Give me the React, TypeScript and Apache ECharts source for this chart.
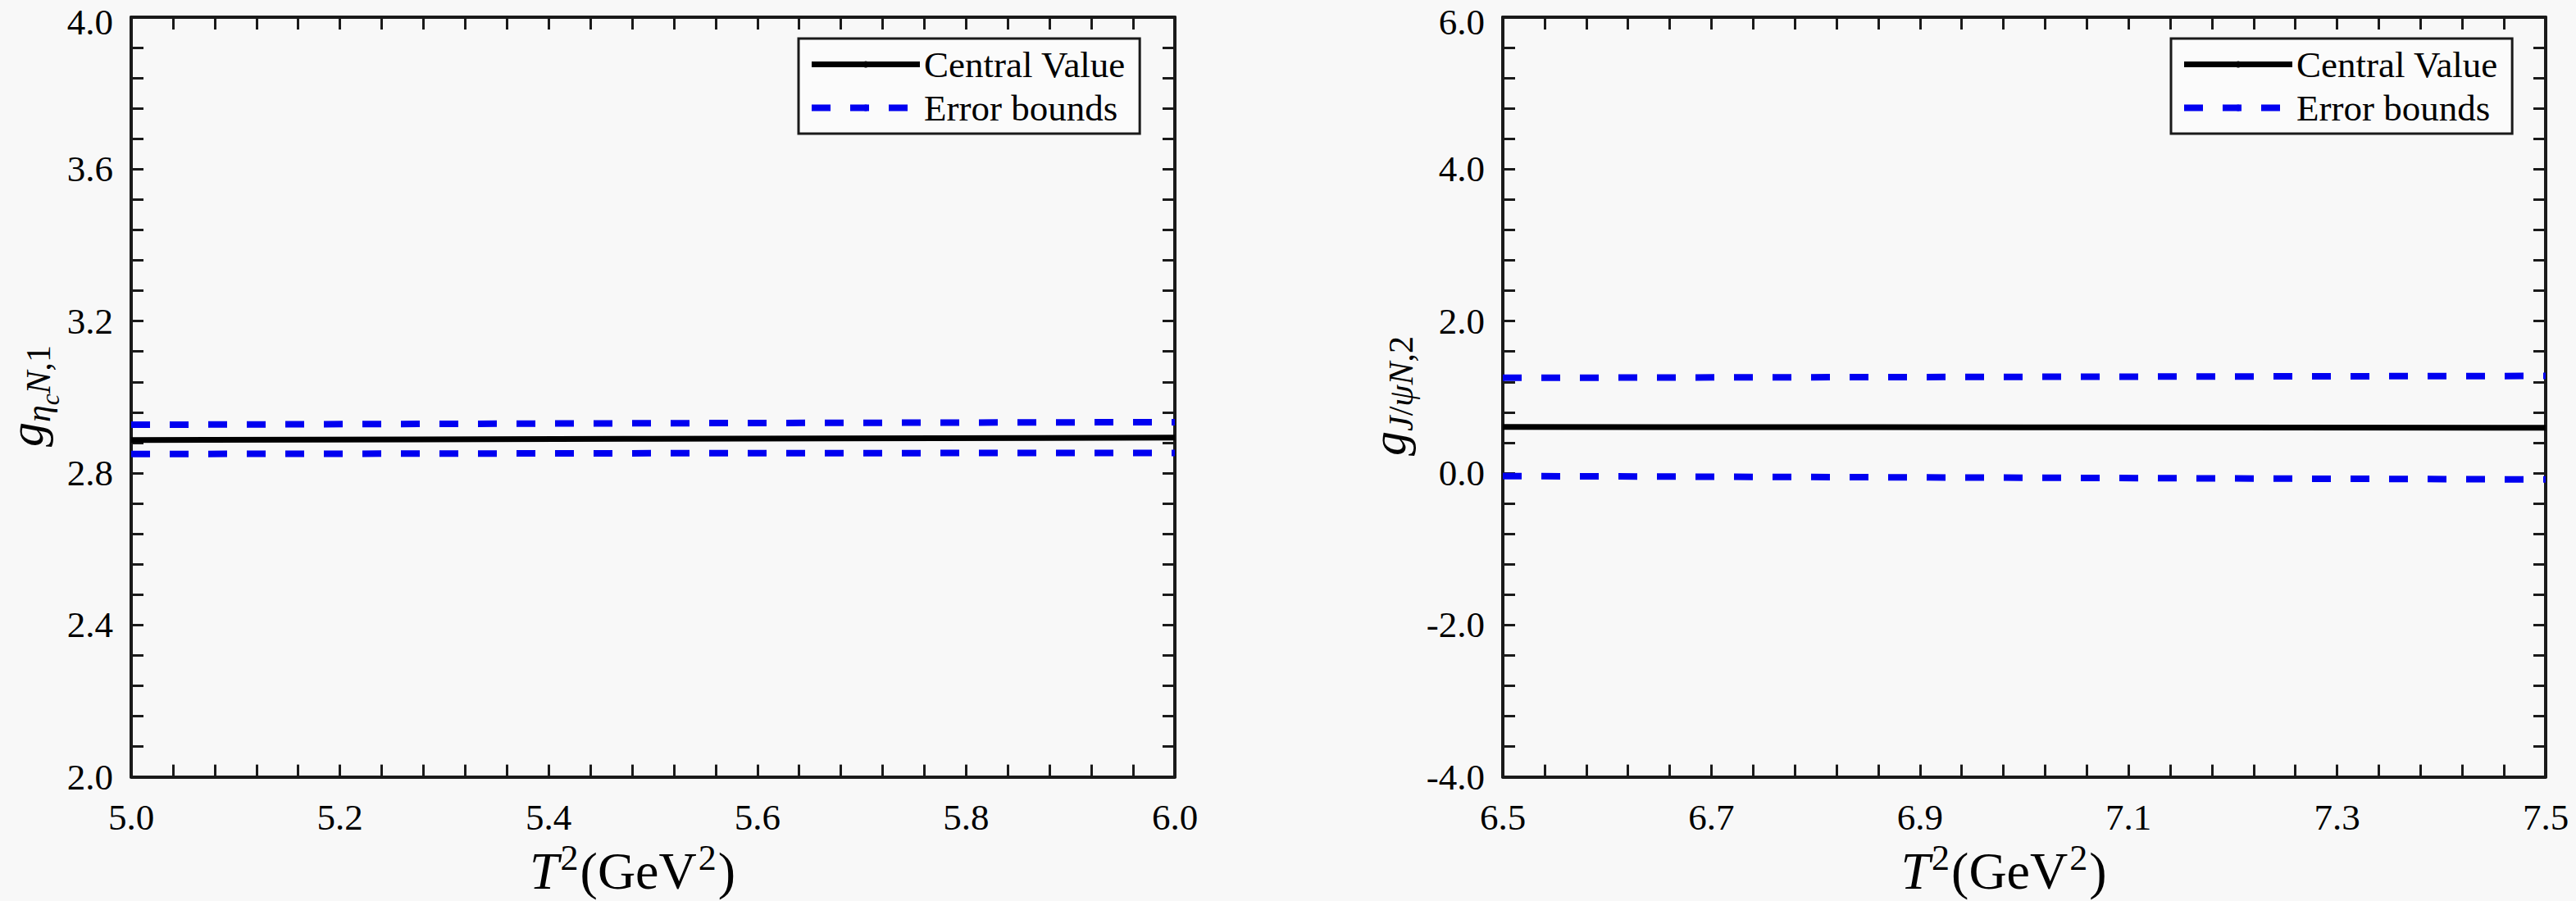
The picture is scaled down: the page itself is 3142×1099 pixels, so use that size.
import { useEffect, useRef } from "react";
import * as echarts from "echarts";

// T^2 sample points and readings for each panel
const X1 = [5.0, 5.5, 6.0];
const CENTRAL1 = [2.887, 2.89, 2.893];
const UPPER1 = [2.927, 2.931, 2.934];
const LOWER1 = [2.85, 2.852, 2.853];

const X2 = [6.5, 7.0, 7.5];
const CENTRAL2 = [0.607, 0.601, 0.596];
const UPPER2 = [1.253, 1.266, 1.278];
const LOWER2 = [-0.04, -0.062, -0.085];

const LEGEND = ["Central Value", "Error bounds"];

const FONT = "'Liberation Serif', 'Times New Roman', 'DejaVu Serif', serif";
const AXIS_COLOR = "#1a1a1a";
const BLUE = "#0000f0";

const pairs = (xs: number[], ys: number[]) => xs.map((x, i) => [x, ys[i]]);

const App = () => {
  const chartRef = useRef<HTMLDivElement | null>(null);

  useEffect(() => {
    if (!chartRef.current) return;
    const chart = echarts.init(chartRef.current, null, { renderer: "svg" });

    const tickCommon = {
      axisLine: { show: true, onZero: false, lineStyle: { color: AXIS_COLOR, width: 4 } },
      axisTick: { show: true, inside: true, length: 15, lineStyle: { color: AXIS_COLOR, width: 3 } },
      minorTick: { show: true, splitNumber: 5, length: 15, lineStyle: { color: AXIS_COLOR, width: 3 } },
      splitLine: { show: false },
      minorSplitLine: { show: false },
    };

    const label = {
      fontFamily: FONT,
      fontSize: 45,
      lineHeight: 38,
      color: "#000",
      formatter: (v: number) => v.toFixed(1),
      showMinLabel: true,
      showMaxLabel: true,
    };

    const xName = {
      name: "{it|T}{sup|2}{rm|(GeV}{sup|2}{rm|)}",
      nameLocation: "middle" as const,
      nameGap: 70,
      nameTextStyle: {
        fontFamily: FONT,
        color: "#000",
        padding: [0, 50, 0, 0],
        rich: {
          it: { fontFamily: FONT, fontSize: 64, fontStyle: "italic", color: "#000" },
          rm: { fontFamily: FONT, fontSize: 64, color: "#000" },
          sup: { fontFamily: FONT, fontSize: 44, color: "#000", padding: [0, 2, 32, 2] },
        },
      },
    };

    const xAxes = (grid: number, min: number, max: number) => [
      {
        type: "value",
        gridIndex: grid,
        min,
        max,
        interval: 0.2,
        position: "bottom",
        ...tickCommon,
        axisLabel: { ...label, margin: 30 },
        ...xName,
      },
      {
        type: "value",
        gridIndex: grid,
        min,
        max,
        interval: 0.2,
        position: "top",
        ...tickCommon,
        axisLabel: { show: false },
      },
    ];

    const yAxes = (grid: number, min: number, max: number, interval: number) => [
      {
        type: "value",
        gridIndex: grid,
        min,
        max,
        interval,
        position: "left",
        ...tickCommon,
        axisLabel: {
          ...label,
          margin: 22,
          // the top label sits at the very edge of the canvas: nudge it down a little
          formatter: (v: number) => (v === max ? `{top|${v.toFixed(1)}}` : v.toFixed(1)),
          rich: {
            top: { fontFamily: FONT, fontSize: 45, color: "#000", padding: [12, 0, 0, 0] },
          },
        },
      },
      {
        type: "value",
        gridIndex: grid,
        min,
        max,
        interval,
        position: "right",
        ...tickCommon,
        axisLabel: { show: false },
      },
    ];

    const central = (xi: number, yi: number, xs: number[], ys: number[]) => ({
      name: LEGEND[0],
      type: "line",
      xAxisIndex: xi,
      yAxisIndex: yi,
      data: pairs(xs, ys),
      symbol: "none",
      lineStyle: { color: "#000", width: 7 },
      itemStyle: { color: "#000" },
      z: 3,
    });

    const bound = (xi: number, yi: number, xs: number[], ys: number[]) => ({
      name: LEGEND[1],
      type: "line",
      xAxisIndex: xi,
      yAxisIndex: yi,
      data: pairs(xs, ys),
      symbol: "none",
      lineStyle: { color: BLUE, width: 8, type: [23, 24] },
      itemStyle: { color: BLUE },
      z: 2,
    });

    const legend = (left: number) => ({
      data: LEGEND,
      left,
      top: 47,
      orient: "vertical",
      itemWidth: 132,
      itemHeight: 10,
      itemGap: 8,
      padding: [9, 17, 9, 12],
      backgroundColor: "#fbfbfb",
      borderColor: AXIS_COLOR,
      borderWidth: 3,
      borderRadius: 0,
      textStyle: { fontFamily: FONT, fontSize: 45, color: "#000", lineHeight: 45 },
      lineStyle: { width: "inherit", type: "inherit" },
    });

    const yNameRich = {
      g: { fontFamily: FONT, fontSize: 60, fontStyle: "italic", color: "#000" },
      s: { fontFamily: FONT, fontSize: 42, fontStyle: "italic", color: "#000", padding: [30, 0, 0, 0] },
      ss: { fontFamily: FONT, fontSize: 31, fontStyle: "italic", color: "#000", padding: [58, 0, 0, 0] },
      r: { fontFamily: FONT, fontSize: 42, color: "#000", padding: [30, 0, 0, 0] },
    };

    const option = {
      animation: false,
      backgroundColor: "#f8f8f8",
      grid: [
        { left: 160, top: 21, width: 1273, height: 927 },
        { left: 1833, top: 21, width: 1272, height: 927 },
      ],
      xAxis: [...xAxes(0, 5.0, 6.0), ...xAxes(1, 6.5, 7.5)],
      yAxis: [...yAxes(0, 2.0, 4.0, 0.4), ...yAxes(1, -4.0, 6.0, 2.0)],
      legend: [legend(974), legend(2648)],
      graphic: [
        {
          type: "text",
          x: 32,
          y: 483,
          rotation: Math.PI / 2,
          style: {
            text: "{g|g}{s|η}{ss|c}{s|N}{r|,1}",
            rich: yNameRich,
            align: "center",
            verticalAlign: "middle",
          },
        },
        {
          type: "text",
          x: 1694,
          y: 483,
          rotation: Math.PI / 2,
          style: {
            text: "{g|g}{s|J}{r|/}{s|ψN}{r|,2}",
            rich: yNameRich,
            align: "center",
            verticalAlign: "middle",
          },
        },
      ],
      series: [
        bound(0, 0, X1, UPPER1),
        bound(0, 0, X1, LOWER1),
        central(0, 0, X1, CENTRAL1),
        bound(2, 2, X2, UPPER2),
        bound(2, 2, X2, LOWER2),
        central(2, 2, X2, CENTRAL2),
      ],
    };

    chart.setOption(option as any);

    return () => {
      chart.dispose();
    };
  }, []);

  return (
    <div
      ref={chartRef}
      style={{ position: "absolute", left: 0, top: 0, width: "3142px", height: "1099px" }}
    />
  );
};

export default App;
